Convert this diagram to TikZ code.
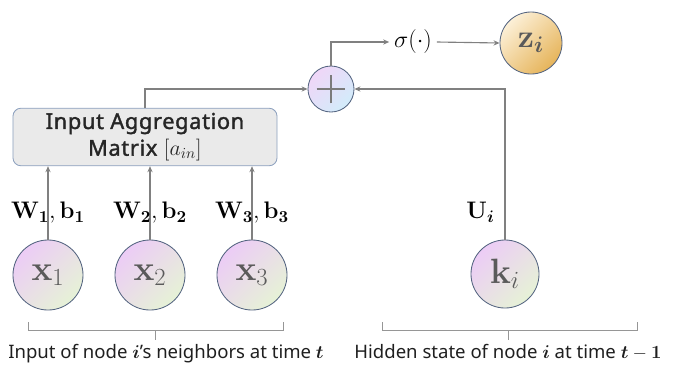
\RequirePackage{fix-cm}
\documentclass[tikz,border=0pt]{standalone}
\usepackage{amsmath}
\usepackage{bm}
\usepackage[no-math]{fontspec}
\setmainfont{Noto Sans}
\newfontfamily\boxfont[FakeBold=1.6, LetterSpace=3]{Noto Sans}
\usepackage{tikz}
\usetikzlibrary{arrows.meta, positioning, calc}
\definecolor{lngray}{RGB}{128,128,128}
\definecolor{brkgray}{RGB}{150,150,150}
\definecolor{rimblue}{RGB}{84,100,128}
\definecolor{boxgray}{RGB}{234,234,234}
\definecolor{boxrim}{RGB}{140,160,190}
\definecolor{nodepink}{RGB}{236,204,246}
\definecolor{nodegreen}{RGB}{230,242,214}
\definecolor{sumblue}{RGB}{210,236,250}
\definecolor{zcream}{RGB}{252,240,216}
\definecolor{zgold}{RGB}{230,180,90}
\definecolor{txtgray}{RGB}{90,90,90}

\begin{document}
\begin{tikzpicture}[x=0.025cm, y=-0.025cm,
  neuron/.style={circle, draw=rimblue, line width=0.6pt, top color=nodepink, bottom color=nodegreen, shading angle=45, minimum size=1.75cm, inner sep=0pt, text=txtgray, font=\fontsize{25}{27}\selectfont},
  summer/.style={circle, draw=rimblue, line width=0.6pt, top color=nodepink!80, bottom color=sumblue, shading angle=45, minimum size=1.15cm, inner sep=0pt,
    path picture={\draw[txtgray!80, line width=0.9pt] ([xshift=-3.6mm]path picture bounding box.center) -- ([xshift=3.6mm]path picture bounding box.center)
      ([yshift=-3.6mm]path picture bounding box.center) -- ([yshift=3.6mm]path picture bounding box.center);}},
  outnode/.style={circle, draw=rimblue, line width=0.6pt, top color=zcream, bottom color=zgold, shading angle=45, minimum size=1.55cm, inner sep=0pt, text=txtgray, font=\fontsize{23}{25}\selectfont},
  aggbox/.style={rectangle, draw=boxrim, fill=boxgray, line width=0.6pt, rounded corners=0.2cm, minimum width=6.6cm, minimum height=1.35cm, align=center, text=black!85, font=\fontsize{15.5}{19}\selectfont\boxfont},
  wlab/.style={font=\fontsize{17}{19}\selectfont, inner sep=1pt, text=black},
  caption/.style={anchor=base, font=\fontsize{13.2}{15}\selectfont, text=black!88},
  arr/.style={-{Stealth[length=1.5mm, width=1.3mm]}, lngray, line width=0.8pt},
  brk/.style={brkgray, line width=0.6pt}
]
\useasboundingbox (0,0) rectangle (678,364);
\node[neuron] (x1) at (48,275) {$\mathbf{x}_1$};
\node[neuron] (x2) at (150,275) {$\mathbf{x}_2$};
\node[neuron] (x3) at (252,275) {$\mathbf{x}_3$};
\node[neuron, minimum size=1.7cm] (k) at (505,274) {$\mathbf{k}_i$};
\node[aggbox] (agg) at (145,137) {Input Aggregation\\Matrix $[a_{in}]$};
\node[summer] (sum) at (331,89) {};
\node[font=\fontsize{17}{19}\selectfont, text=black] (sig) at (413,42) {$\sigma(\cdot)$};
\node[outnode] (z) at (531,43) {$\mathbf{z}_{\bm{i}}$};
% inputs into the aggregation box
\draw[arr] (x1) -- node[wlab, pos=.37] {$\mathbf{W}_{\mathbf{1}},\mathbf{b}_{\mathbf{1}}$} (x1 |- agg.south);
\draw[arr] (x2) -- node[wlab, pos=.37] {$\mathbf{W}_{\mathbf{2}},\mathbf{b}_{\mathbf{2}}$} (x2 |- agg.south);
\draw[arr] (x3) -- node[wlab, pos=.37] {$\mathbf{W}_{\mathbf{3}},\mathbf{b}_{\mathbf{3}}$} (x3 |- agg.south);
\draw[arr] (agg.north) |- (sum.west);
\draw[arr] (k.north) |- node[wlab, pos=.09, left=6pt] {$\mathbf{U}_{\bm{i}}$} (sum.east);
\draw[arr] (sum.north) |- (sig.west);
\draw[arr] (sig.east) -- (z.west);
% brackets and captions
\draw[brk] (28,322) -- (28,330) -- (283,330) -- (283,322) (155,330) -- (155,340);
\draw[brk] (382,322) -- (382,330) -- (637,330) -- (637,322) (508,330) -- (508,340);
\node[caption] (capL) at (166,358) {Input of node $\bm{i}$'s neighbors at time $\bm{t}$};
\node[caption] (capR) at (508,358) {Hidden state of node $\bm{i}$ at time $\bm{t}-\mathbf{1}$};
\end{tikzpicture}
\end{document}
